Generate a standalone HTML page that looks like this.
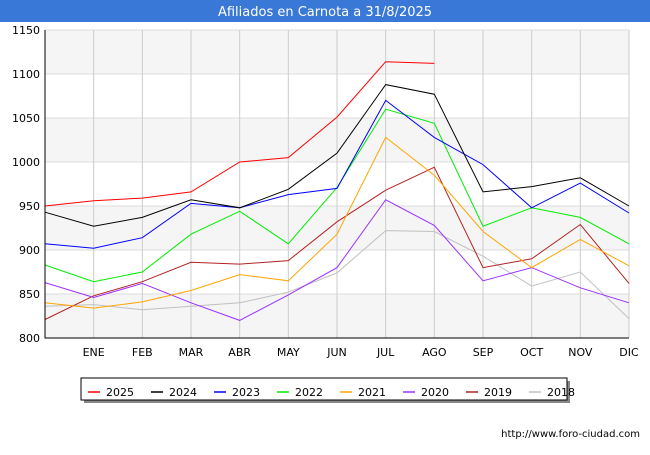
<!DOCTYPE html>
<html><head><meta charset="utf-8"><style>
body{margin:0;background:#fff;font-family:"Liberation Sans","DejaVu Sans",sans-serif}
svg text{font-family:"DejaVu Sans","Liberation Sans",sans-serif}
</style></head><body>
<svg width="650" height="450">
<rect x="0" y="0" width="650" height="22" fill="#3a78d8"/>
<text x="325" y="16" text-anchor="middle" fill="#fff" font-size="13">Afiliados en Carnota a 31/8/2025</text>
<g id="grid"></g><g id="series"></g><g id="axes"></g>
<rect x="84" y="381" width="486" height="22" fill="#888"/>
<rect x="81" y="378" width="486" height="22" fill="#fff" stroke="#000"/>
<g id="legend"></g>
<text x="640" y="437" text-anchor="end" font-size="10" fill="#000">http://www.foro-ciudad.com</text>
</svg>
<script>
const months=["","ENE","FEB","MAR","ABR","MAY","JUN","JUL","AGO","SEP","OCT","NOV","DIC"];
const yTicks=[800,850,900,950,1000,1050,1100,1150];
const seriesNames=["2025","2024","2023","2022","2021","2020","2019","2018"];
const seriesColors=["#ff0000","#000000","#0000ff","#00ee00","#ffa500","#9b30ff","#b22222","#c0c0c0"];
const s2025=[950,956,959,966,1000,1005,1051,1114,1112];
const s2024=[943,927,937,957,948,969,1010,1088,1077,966,972,982,950];
const s2023=[907,902,914,953,948,963,970,1070,1028,997,948,976,942];
const s2022=[883,864,875,918,944,907,971,1060,1044,927,948,937,907];
const s2021=[840,834,841,854,872,865,918,1028,985,921,880,912,882];
const s2020=[863,846,862,840,820,849,880,957,928,865,880,857,840];
const s2019=[821,848,864,886,884,888,932,968,994,880,890,929,862];
const s2018=[836,838,832,836,840,852,874,922,921,893,859,875,822];
const allSeries=[s2025,s2024,s2023,s2022,s2021,s2020,s2019,s2018];
const NS="http://www.w3.org/2000/svg";
const x0=45,x1=629,yTop=30,yBot=338,vMin=800,vMax=1150;
const X=i=>x0+i*(x1-x0)/12;
const Y=v=>yBot-(v-vMin)*(yBot-yTop)/(vMax-vMin);
function mk(t,a,p){const e=document.createElementNS(NS,t);for(const k in a)e.setAttribute(k,a[k]);p.appendChild(e);return e;}
const g=document.getElementById('grid');
for(let i=0;i<yTicks.length-1;i++){
 if(i%2==0){const r=mk('rect',{x:x0,y:Y(yTicks[i+1]),width:x1-x0,height:Y(yTicks[i])-Y(yTicks[i+1]),fill:'#f5f5f5'},g);
 
 }
}
yTicks.forEach(v=>{
 const l=mk('line',{x1:x0,x2:x1,y1:Y(v),y2:Y(v),stroke:'#ddd'},g);
 
 
 const t=mk('text',{x:x0-5,y:Y(v)+4,'text-anchor':'end','font-size':11},g);
 
 
 t.textContent=v;
});
months.forEach((m,i)=>{
 if(i>0){const l=mk('line',{x1:X(i),x2:X(i),y1:yTop,y2:yBot,stroke:'#ccc'},g);
 
 }
 const t=mk('text',{x:X(i),y:356,'text-anchor':'middle','font-size':11},g);
 
 
 t.textContent=m;
});
const ax=document.getElementById('axes');
const a=mk('path',{d:`M${x0} ${yTop}V${yBot}H${x1}`,stroke:'#000',fill:'none'},ax);


const sg=document.getElementById('series');
for(let k=allSeries.length-1;k>=0;k--){
 const d=allSeries[k].map((v,i)=>(i?'L':'M')+X(i).toFixed(1)+' '+Y(v).toFixed(1)).join('');
 const p=mk('path',{d:d,stroke:seriesColors[k],fill:'none','stroke-width':1},sg);
 
 
}
const lg=document.getElementById('legend');
seriesNames.forEach((n,i)=>{
 const lx=88+i*63;
 const l=mk('line',{x1:lx,x2:lx+12,y1:392,y2:392,stroke:seriesColors[i],'stroke-width':1.5},lg);
 
 
 const t=mk('text',{x:lx+18,y:396,'font-size':11},lg);
 
 
 t.textContent=n;
});
</script>
</body></html>
